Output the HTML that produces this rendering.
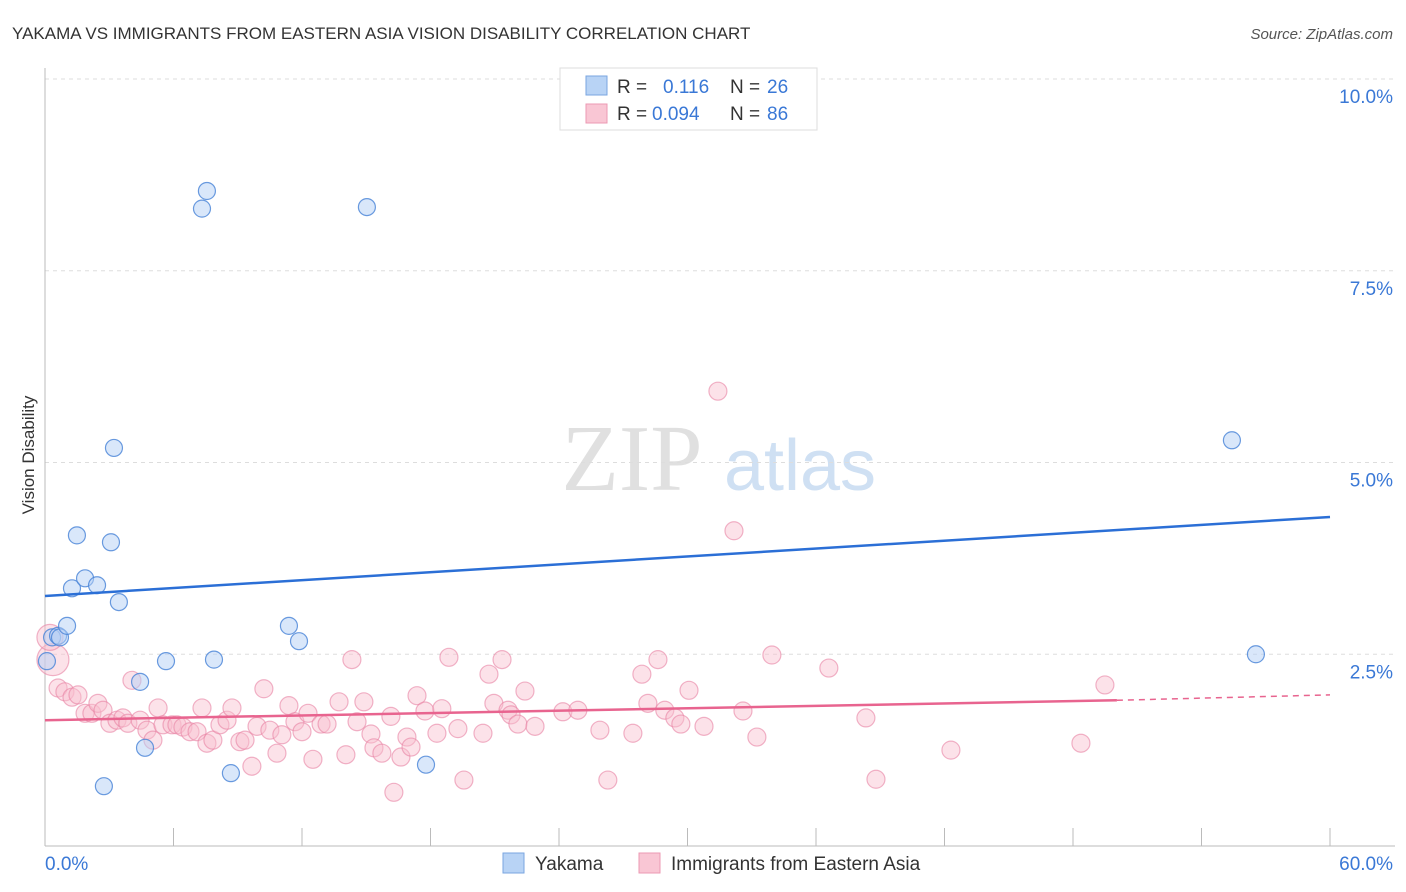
<!DOCTYPE html>
<html><head><meta charset="utf-8"><style>
body{margin:0;background:#fff;font-family:"Liberation Sans",sans-serif;}
#wrap{position:relative;width:1406px;height:892px;overflow:hidden;}
</style></head><body>
<div id="wrap">
<svg id="chart" width="1406" height="892">
<text x="12" y="39" font-size="17" fill="#333">YAKAMA VS IMMIGRANTS FROM EASTERN ASIA VISION DISABILITY CORRELATION CHART</text>
<text x="1393" y="39" font-size="15" fill="#555" font-style="italic" text-anchor="end">Source: ZipAtlas.com</text>
<text x="34" y="455" font-size="17" fill="#333" text-anchor="middle" transform="rotate(-90 34 455)">Vision Disability</text>
<g><text x="632" y="490" font-size="94" fill="#e0e0e0" font-family="Liberation Serif,serif" text-anchor="middle">ZIP</text><text x="800" y="490" font-size="72" fill="#cfe0f3" text-anchor="middle">atlas</text></g>
<g id="grid"></g><g id="axes"></g><g id="pts"></g><g id="trend"></g>
<g>
<rect x="560" y="68" width="257" height="62" fill="#fff" stroke="#ddd"/>
<rect x="586" y="76" width="21" height="19" fill="#b8d3f5" stroke="#7aa6e0"/>
<rect x="586" y="104" width="21" height="19" fill="#f9c6d4" stroke="#ec99b3"/>
<text x="617" y="93" font-size="19" fill="#333">R =</text><text x="663" y="93" font-size="19" fill="#3a78d6">0.116</text>
<text x="730" y="93" font-size="19" fill="#333">N =</text><text x="767" y="93" font-size="19" fill="#3a78d6">26</text>
<text x="617" y="120" font-size="19" fill="#333">R =</text><text x="652" y="120" font-size="19" fill="#3a78d6">0.094</text>
<text x="730" y="120" font-size="19" fill="#333">N =</text><text x="767" y="120" font-size="19" fill="#3a78d6">86</text>
</g>
<g>
<rect x="503" y="853" width="21" height="20" fill="#b8d3f5" stroke="#7aa6e0"/>
<text x="535" y="870" font-size="19" fill="#333">Yakama</text>
<rect x="639" y="853" width="21" height="20" fill="#f9c6d4" stroke="#ec99b3"/>
<text x="671" y="870" font-size="19" fill="#333">Immigrants from Eastern Asia</text>
</g>
</svg>
</div>
<script>
const blueX=[0.09,0.33,0.61,0.70,1.03,1.26,1.49,1.87,2.43,2.75,3.08,3.22,3.45,4.44,4.67,5.65,7.33,7.56,7.89,8.68,11.39,11.86,15.03,17.79,55.42,56.54];
const blueY=[2.41,2.72,2.74,2.72,2.87,3.36,4.05,3.49,3.40,0.78,3.96,5.19,3.18,2.14,1.28,2.41,8.31,8.54,2.43,0.95,2.87,2.67,8.33,1.06,5.29,2.50];
const pinkX=[0.37,0.23,0.61,0.93,1.26,1.54,1.87,2.19,2.47,2.71,3.03,3.36,3.64,3.87,4.06,4.44,4.76,5.04,5.28,5.51,5.93,6.16,6.44,6.77,7.10,7.33,7.56,7.84,8.17,8.50,8.73,9.10,9.34,9.66,9.90,10.22,10.50,10.83,11.06,11.39,11.67,12.00,12.28,12.51,12.89,13.17,13.73,14.05,14.33,14.57,14.89,15.22,15.36,15.73,16.15,16.29,16.62,16.90,17.09,17.37,17.74,18.30,18.53,18.86,19.28,19.56,20.45,20.73,20.96,21.34,21.62,21.76,22.08,22.41,22.88,24.18,24.88,26.28,25.91,27.45,27.87,28.15,28.62,28.94,29.41,29.69,30.07,30.77,31.42,32.17,32.59,33.24,33.94,36.60,38.33,38.80,42.30,48.37,49.49];
const pinkY=[2.43,2.72,2.06,2.01,1.94,1.97,1.73,1.73,1.86,1.77,1.60,1.64,1.67,1.60,2.16,1.64,1.51,1.38,1.80,1.58,1.58,1.58,1.55,1.49,1.49,1.80,1.34,1.38,1.58,1.64,1.80,1.36,1.38,1.04,1.56,2.05,1.51,1.21,1.45,1.83,1.62,1.49,1.73,1.13,1.59,1.59,1.88,1.19,2.43,1.62,1.88,1.46,1.28,1.21,1.69,0.70,1.16,1.42,1.29,1.96,1.76,1.47,1.79,2.46,1.53,0.86,1.47,2.24,1.86,2.43,1.77,1.71,1.59,2.02,1.56,1.75,1.77,0.86,1.51,1.47,2.24,1.86,2.43,1.77,1.67,1.59,2.03,1.56,5.93,4.11,1.76,1.42,2.49,2.32,1.67,0.87,1.25,1.34,2.10];
const yTicks=[2.5,5.0,7.5,10.0];
const xTicks=[0,6,12,18,24,30,36,42,48,54,60];
const blueTrend=[3.26,4.29];
const pinkTrend=[1.64,1.90,1.97];
const pinkSolidEnd=50.05;
const NS='http://www.w3.org/2000/svg';
const X=v=>45+v/60*1285, Y=v=>846-v/10*767;
function mk(t,a,p){const e=document.createElementNS(NS,t);for(const k in a)e.setAttribute(k,a[k]);p.appendChild(e);return e;}
const grid=document.getElementById('grid'),axes=document.getElementById('axes'),pts=document.getElementById('pts'),tr=document.getElementById('trend');
yTicks.forEach(t=>{
 const l=mk('line',{x1:45,x2:1395,y1:Y(t),y2:Y(t),stroke:'#ddd','stroke-dasharray':'4,4'},grid);
 
 
 const tx=mk('text',{x:1393,y:Y(t)+24,'font-size':19,fill:'#3a78d6','text-anchor':'end'},grid);
 tx.textContent=t.toFixed(1)+'%';
 
 
});
let a=mk('line',{x1:45,x2:45,y1:68,y2:846,stroke:'#bbb'},axes);


a=mk('line',{x1:45,x2:1395,y1:846,y2:846,stroke:'#bbb'},axes);


xTicks.forEach(t=>{
 const l=mk('line',{x1:X(t),x2:X(t),y1:828,y2:846,stroke:'#bbb'},axes);
 
 
});
let tl=mk('text',{x:45,y:870,'font-size':19,fill:'#3a78d6'},axes);tl.textContent='0.0%';


tl=mk('text',{x:1393,y:870,'font-size':19,fill:'#3a78d6','text-anchor':'end'},axes);tl.textContent='60.0%';


pinkX.forEach((v,i)=>{
 const r=i==0?16:(i==1?13:9);
 const c=mk('circle',{cx:X(v),cy:Y(pinkY[i]),r:r,fill:'rgba(248,190,207,0.45)',stroke:'rgba(232,130,163,0.6)','stroke-width':1.2},pts);
 
 
});
blueX.forEach((v,i)=>{
 const c=mk('circle',{cx:X(v),cy:Y(blueY[i]),r:8.5,fill:'rgba(180,208,245,0.5)',stroke:'rgba(70,130,215,0.8)','stroke-width':1.2},pts);
 
 
});
let t=mk('line',{x1:X(0),y1:Y(blueTrend[0]),x2:X(60),y2:Y(blueTrend[1]),stroke:'#2b6fd6','stroke-width':2.5},tr);


t=mk('line',{x1:X(0),y1:Y(pinkTrend[0]),x2:X(pinkSolidEnd),y2:Y(pinkTrend[1]),stroke:'#e8648f','stroke-width':2.5},tr);


t=mk('line',{x1:X(pinkSolidEnd),y1:Y(pinkTrend[1]),x2:X(60),y2:Y(pinkTrend[2]),stroke:'#e8648f','stroke-width':1.5,'stroke-dasharray':'6,5'},tr);


</script>
</body></html>
